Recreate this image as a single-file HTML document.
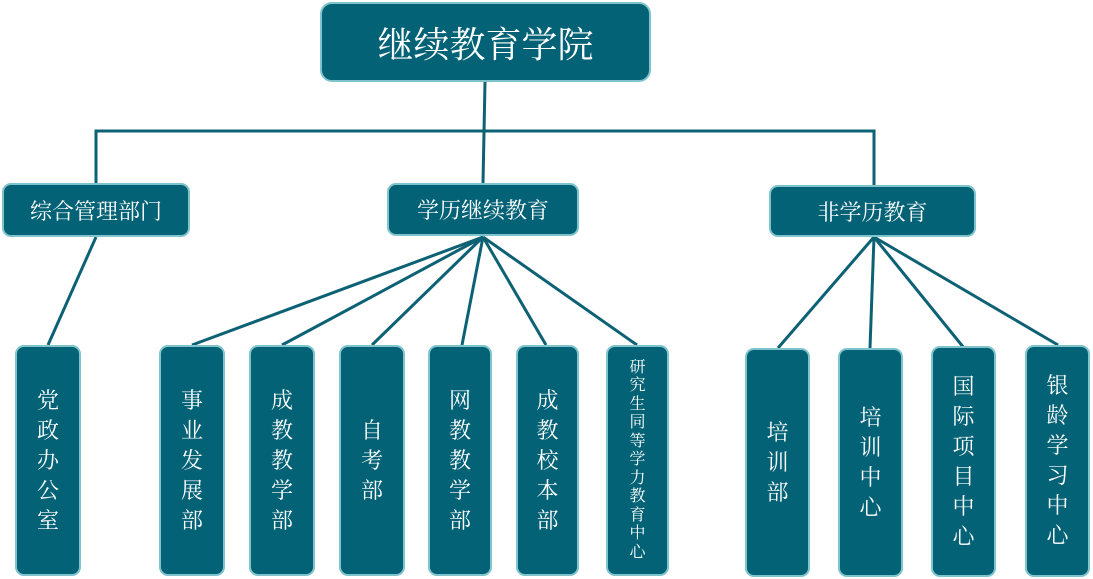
<!DOCTYPE html>
<html><head><meta charset="utf-8"><style>
body{margin:0;width:1093px;height:579px;background:#fff;position:relative;overflow:hidden;font-family:"Liberation Serif","Noto Serif CJK SC",serif;}
.b{position:absolute;background:#036276;border:2px solid #7fc4cc;border-radius:9px;box-sizing:border-box;color:#fff;display:flex;align-items:center;justify-content:center;text-align:center;}
.h{font-size:22px;}
.v{font-size:22px;line-height:30px;width:66px;}
svg{position:absolute;left:0;top:0;}
</style></head><body>
<svg width="1093" height="579"><g stroke="#0d6174" stroke-width="3" fill="none">
<line x1="485" y1="82" x2="483" y2="183"/>
<polyline points="96,183 96,131 874,131 874,185"/>
<line x1="96" y1="237" x2="48" y2="345"/>
<line x1="483" y1="237" x2="192" y2="345"/>
<line x1="483" y1="237" x2="282" y2="345"/>
<line x1="483" y1="237" x2="372" y2="345"/>
<line x1="483" y1="237" x2="462" y2="345"/>
<line x1="483" y1="237" x2="546" y2="345"/>
<line x1="483" y1="237" x2="637" y2="345"/>
<line x1="874" y1="237" x2="778" y2="348"/>
<line x1="874" y1="237" x2="870" y2="348"/>
<line x1="874" y1="237" x2="964" y2="348"/>
<line x1="874" y1="237" x2="1058" y2="345"/>
</g></svg>
<div class="b" style="left:320px;top:2px;width:331px;height:80px;font-size:36px;border-radius:12px">继续教育学院</div>
<div class="b h" style="left:2px;top:183px;width:188px;height:54px">综合管理部门</div>
<div class="b h" style="left:387px;top:183px;width:192px;height:53px">学历继续教育</div>
<div class="b h" style="left:769px;top:185px;width:207px;height:52px">非学历教育</div>
<div class="b v" style="left:15px;top:345px;height:231px">党<br>政<br>办<br>公<br>室</div>
<div class="b v" style="left:159px;top:345px;height:231px">事<br>业<br>发<br>展<br>部</div>
<div class="b v" style="left:249px;top:345px;height:231px">成<br>教<br>教<br>学<br>部</div>
<div class="b v" style="left:339px;top:345px;height:231px">自<br>考<br>部</div>
<div class="b v" style="left:428px;top:345px;height:231px;width:64px">网<br>教<br>教<br>学<br>部</div>
<div class="b v" style="left:516px;top:345px;height:231px;width:63px">成<br>教<br>校<br>本<br>部</div>
<div class="b" style="left:606px;top:345px;width:63px;height:231px;font-size:16px;line-height:18.5px">研<br>究<br>生<br>同<br>等<br>学<br>力<br>教<br>育<br>中<br>心</div>
<div class="b v" style="left:745px;top:348px;height:229px;width:65px">培<br>训<br>部</div>
<div class="b v" style="left:838px;top:348px;height:229px;width:65px">培<br>训<br>中<br>心</div>
<div class="b v" style="left:931px;top:346px;height:231px;width:65px">国<br>际<br>项<br>目<br>中<br>心</div>
<div class="b v" style="left:1025px;top:345px;height:232px;width:65px">银<br>龄<br>学<br>习<br>中<br>心</div>
</body></html>
